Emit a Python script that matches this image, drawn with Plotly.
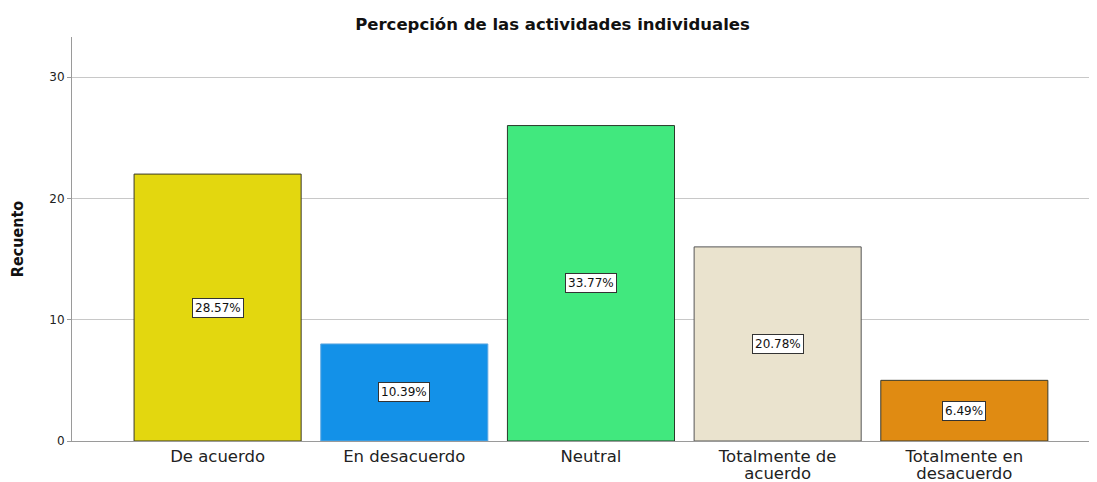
import plotly.graph_objects as go

categories = ["De acuerdo", "En desacuerdo", "Neutral", "Totalmente de acuerdo", "Totalmente en desacuerdo"]
tick_lines = [["De acuerdo"], ["En desacuerdo"], ["Neutral"], ["Totalmente de", "acuerdo"], ["Totalmente en", "desacuerdo"]]
counts = [22, 8, 26, 16, 5]
percent_labels = ["28.57%", "10.39%", "33.77%", "20.78%", "6.49%"]
colors = ["#E3D70F", "#1391E8", "#41E87E", "#EAE3CE", "#E08B12"]
line_colors = ["#3a3a2a", "#5fa8e0", "#2a3a2a", "#555555", "#3a3a2a"]

SPAN = "<span style='font-size:16.5px'>{}</span>"
tick_labels = ["<br>".join(SPAN.format(t) for t in lines) for lines in tick_lines]

# page body has an 8px default margin: figure is sized to fit the 1097x482 window
fig = go.Figure()
fig.add_trace(go.Bar(
    x=list(range(len(categories))),
    y=counts,
    width=0.895,
    marker=dict(color=colors, line=dict(color=line_colors, width=1)),
    hovertext=categories,
    showlegend=False,
))

for i, (v, lab) in enumerate(zip(counts, percent_labels)):
    fig.add_annotation(
        x=i, y=v / 2, text=lab, showarrow=False,
        font=dict(family="DejaVu Sans, sans-serif", size=12, color="#111111"),
        bgcolor="white", bordercolor="#333333", borderwidth=1, borderpad=2,
    )

fig.update_layout(
    width=1089, height=474,
    margin=dict(l=64, r=2, t=29, b=41),
    paper_bgcolor="white", plot_bgcolor="white",
    title=dict(text="<b>Percepción de las actividades individuales</b>", x=0.5, xanchor="center",
               y=1 - 16 / 474, yanchor="middle",
               font=dict(family="DejaVu Sans, sans-serif", size=16.5, color="#111111")),
    xaxis=dict(
        tickmode="array", tickvals=list(range(len(categories))), ticktext=tick_labels,
        range=[-0.78, 4.70], showgrid=False, showline=True, linecolor="#9a9a9a", linewidth=1,
        ticks="", ticklabelstandoff=4,
        tickfont=dict(family="DejaVu Sans, sans-serif", size=13, color="#222222"),
        zeroline=False, automargin=False,
    ),
    yaxis=dict(
        range=[0, 33.3], tickvals=[0, 10, 20, 30], showgrid=True, gridcolor="#c8c8c8", gridwidth=1,
        showline=True, linecolor="#9a9a9a", linewidth=1, ticks="outside", ticklen=4, tickcolor="#9a9a9a",
        tickfont=dict(family="DejaVu Sans, sans-serif", size=12, color="#222222"),
        title=dict(text="<b>Recuento</b>", standoff=28,
                   font=dict(family="Liberation Sans Narrow, DejaVu Sans Condensed, Arial Narrow, sans-serif", size=16, color="#111111")),
        zeroline=False, automargin=False,
    ),
    bargap=0.1,
)

fig.write_html("out.html")
